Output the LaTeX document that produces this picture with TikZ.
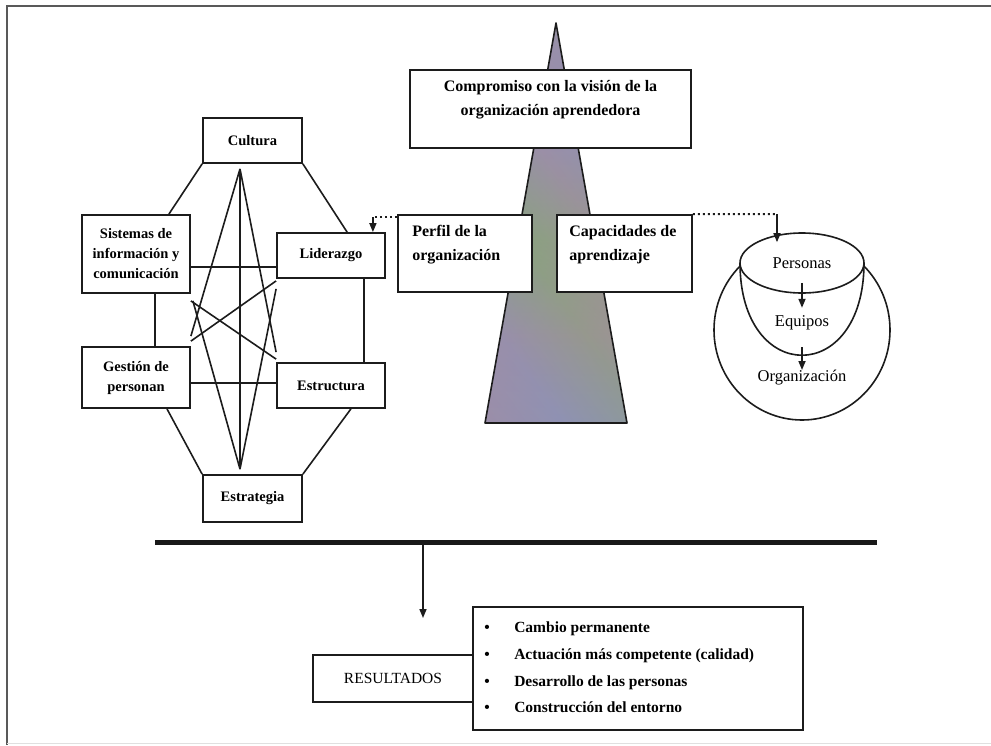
\documentclass[tikz,border=0pt]{standalone}
\usepackage{fontspec}
\setmainfont{Liberation Serif}
\usetikzlibrary{arrows.meta,calc,shapes.geometric}
\definecolor{pyrA}{RGB}{138,162,128}
\definecolor{pyrB}{RGB}{142,146,180}
\definecolor{pyrC}{RGB}{166,140,160}
\definecolor{ink}{RGB}{28,28,28}
% mottled fill of the pyramid: diagonal colour bands plus horizontal bands
\pgfdeclarehorizontalshading{mottle}{100bp}{color(0bp)=(pyrA); color(14bp)=(pyrC); color(28bp)=(pyrB);
  color(42bp)=(pyrA); color(56bp)=(pyrC); color(70bp)=(pyrB); color(84bp)=(pyrA); color(100bp)=(pyrC)}
\pgfdeclareverticalshading{bands}{100bp}{color(0bp)=(pyrC); color(12bp)=(pyrA); color(24bp)=(pyrB);
  color(36bp)=(pyrC); color(48bp)=(pyrA); color(60bp)=(pyrB); color(72bp)=(pyrC); color(86bp)=(pyrA); color(100bp)=(pyrB)}
\begin{document}
\begin{tikzpicture}[x=1pt,y=-1pt,
  box/.style={draw=ink,line width=1.8pt,fill=white,inner sep=0pt,align=center},
  link/.style={draw=ink,line width=1.6pt},
  dots/.style={draw=ink,line width=2pt,dash pattern=on 2pt off 3pt},
  tip/.style={-{Triangle[length=9pt,width=7pt]}},
  clus/.style={font=\bfseries\fontsize{14.5}{20}\selectfont},
  head/.style={font=\bfseries\fontsize{16}{24}\selectfont},
  ring/.style={font=\fontsize{16.5}{20}\selectfont},
  item/.style={font=\bfseries\fontsize{15.5}{20}\selectfont,inner sep=0pt},
]
\useasboundingbox (0,0) rectangle (991,745);
\fill[white] (0,0) rectangle (991,745);

% page frame
\draw[line width=2pt,black!65] (7,745) -- (7,6) -- (991,6);
\draw[line width=1pt,black!12] (7,743) -- (991,743);

% pyramid
\coordinate (apex) at (556,23);
\coordinate (baseL) at (485,423);
\coordinate (baseR) at (627,423);
\shade[shading=mottle,shading angle=35] (apex) -- (baseR) -- (baseL) -- cycle;
\shade[shading=bands,opacity=0.45] (apex) -- (baseR) -- (baseL) -- cycle;
\draw[line width=1.6pt,ink,line join=round] (apex) -- (baseR) -- (baseL) -- cycle;

% boxes on the pyramid
\node[box,minimum width=281pt,minimum height=78pt] (comp) at (550.5,109) {};
\node[head,align=center,inner sep=0pt] (comptxt) at (550.5,100)
  {Compromiso con la visión de la\\organización aprendedora};
\node[box,minimum width=134pt,minimum height=77pt] (perf) at (465,253.5) {};
\node[head,align=left,anchor=west,inner sep=0pt] (perftxt) at ($(perf.west)+(15,-8.5)$)
  {Perfil de la\\organización};
\node[box,minimum width=135pt,minimum height=77pt] (cap) at (624.5,253.5) {};
\node[head,align=left,anchor=west,inner sep=0pt] (captxt) at ($(cap.west)+(13,-8.5)$)
  {Capacidades de\\aprendizaje};

% left cluster
\node[box,clus,minimum width=99pt,minimum height=45pt] (cul) at (252.5,140.5) {Cultura};
\node[box,clus,minimum width=108pt,minimum height=78pt] (sis) at (136,254) {Sistemas de\\información y\\comunicación};
\node[box,clus,minimum width=108pt,minimum height=45pt] (lid) at (331,255.5) {Liderazgo};
\node[box,clus,minimum width=108pt,minimum height=61pt] (ges) at (136,377.5) {Gestión de\\personan};
\node[box,clus,minimum width=108pt,minimum height=45pt] (est) at (331,385.5) {Estructura};
\node[box,clus,minimum width=99pt,minimum height=47pt] (estr) at (252.5,498.5) {Estrategia};

% outer links
\draw[link] (cul.south west) -- ($(sis.north east)+(-22,0)$);
\draw[link] (cul.south east) -- ($(lid.north west)+(71,0)$);
\draw[link] ($(sis.south)+(19,0)$) -- ($(ges.north)+(19,0)$);
\draw[link] ($(lid.south east)+(-22,0)$) -- ($(est.north east)+(-22,0)$);
\draw[link] ($(ges.south)+(31,0)$) -- (estr.north west);
\draw[link] ($(est.south east)+(-35,0)$) -- (estr.north east);
\coordinate (h1) at ($(sis.east)+(0,13)$);
\draw[link] (h1) -- (h1 -| lid.west);
\coordinate (h2) at ($(ges.east)+(0,5.5)$);
\draw[link] (h2) -- (h2 -| est.west);

% inner links
\coordinate (topv) at ($(cul.south)+(-12.5,5)$);
\coordinate (botv) at ($(estr.north)+(-12.5,-5)$);
\draw[link] (topv) -- (botv);
\draw[link] (topv) -- ($(ges.north east)+(0,-10)$);
\draw[link] (topv) -- ($(est.north west)+(0,-10)$);
\draw[link] (botv) -- ($(sis.south east)+(2,7)$);
\draw[link] (botv) -- ($(lid.south west)+(0,10)$);
\draw[link] ($(sis.south east)+(0,7)$) -- ($(est.north west)+(0,-3)$);
\draw[link] ($(ges.north east)+(0,-5)$) -- ($(lid.south west)+(0,2)$);

% nested levels
\node[ellipse,draw=ink,line width=1.6pt,fill=white,minimum width=176pt,minimum height=180pt,inner sep=0pt] (org) at (802,330) {};
\coordinate (eqL) at (740,263);
\coordinate (eqR) at (864,263);
\draw[ink,line width=1.6pt,fill=white] (eqL) .. controls ($(eqL)+(0,123)$) and ($(eqR)+(0,123)$) .. (eqR);
\node[ellipse,draw=ink,line width=1.6pt,fill=white,minimum width=124pt,minimum height=60pt,inner sep=0pt,ring] (pers) at (802,263) {Personas};
\node[ring,inner sep=0pt] (equ) at (802,323) {Equipos};
\node[ring,inner sep=0pt] (orgtxt) at (802,378) {Organización};
\draw[link,tip] ($(pers.south)+(0,-11)$) -- ($(pers.south)+(0,14)$);
\draw[link,tip] ($(org.center)+(0,17)$) -- ($(org.center)+(0,40)$);

% dotted feedback links
\coordinate (dl) at ($(lid.north east)+(-13,-15)$);
\draw[dots] ($(perf.north west)+(0,3)$) -- (dl);
\draw[link,tip] (dl) -- (dl |- lid.north);
\coordinate (dr) at ($(pers.north)+(-25,-18)$);
\draw[dots] (cap.north east) -- (dr);
\draw[link,tip] (dr) -- ($(pers.north)+(-25,10)$);

% results
\coordinate (barL) at (155,542);
\coordinate (barR) at (877,542);
\draw[line width=5pt,black!90] (barL) -- (barR);
\coordinate (dropTop) at (423,545);
\coordinate (dropEnd) at (423,618);
\draw[link,tip] (dropTop) -- (dropEnd);

\node[box,minimum width=160pt,minimum height=47pt,font=\fontsize{15.5}{18}\selectfont] (res) at (393,678.5) {RESULTADOS};
\node[box,minimum width=330pt,minimum height=123pt] (list) at (638,668.5) {};
\foreach \i/\dy/\txt in {1/21/Cambio permanente,2/48/Actuación más competente (calidad),3/75/Desarrollo de las personas,4/101/Construcción del entorno}{
  \node[item,anchor=base] (b\i) at ($(list.north west)+(15,\dy+5)$) {\textbullet};
  \node[item,anchor=base west] (t\i) at ($(list.north west)+(42,\dy+5)$) {\txt};
}
\end{tikzpicture}
\end{document}
